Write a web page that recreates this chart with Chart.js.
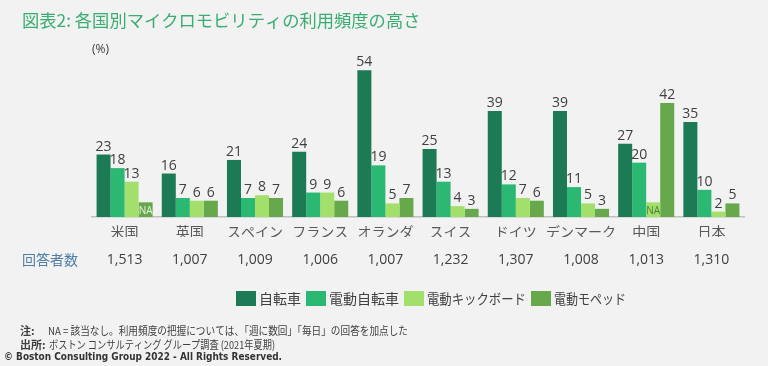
<!DOCTYPE html>
<html lang="ja">
<head>
<meta charset="utf-8">
<script src="https://cdn.jsdelivr.net/npm/chart.js@4.4.1/dist/chart.umd.min.js"></script>
<style>
  html, body { margin: 0; padding: 0; background: #f2f2f2; }
  #wrap { position: relative; width: 768px; height: 366px; }
</style>
</head>
<body>
<div id="wrap"><canvas id="chart" width="768" height="366"></canvas></div>
<script>
const countries = ['米国', '英国', 'スペイン', 'フランス', 'オランダ', 'スイス', 'ドイツ', 'デンマーク', '中国', '日本'];
const respondents = ['1,513', '1,007', '1,009', '1,006', '1,007', '1,232', '1,307', '1,008', '1,013', '1,310'];

// null = NA (該当なし)
const bicycle    = [23, 16, 21, 24, 54, 25, 39, 39, 27, 35];
const eBike      = [18, 7, 7, 9, 19, 13, 12, 11, 20, 10];
const eKickboard = [13, 6, 8, 9, 5, 4, 7, 5, null, 2];
const eMoped     = [null, 6, 7, 6, 7, 3, 6, 3, 42, 5];

const seriesNames = ['自転車', '電動自転車', '電動キックボード', '電動モペッド'];
const seriesColors = ['#1c7a55', '#2bb873', '#a2e06b', '#66a84b'];
const naTextColors = ['#ffffff', '#ffffff', '#4f7d3d', '#e8f3e0'];
const naStub = 5.4; // NA cells are shown as a short stub bar

const yMax = 60;

const jp = '"Noto Sans CJK JP", "Noto Sans", sans-serif';
const num = '"Open Sans", "Noto Sans", sans-serif';

const allSeries = [bicycle, eBike, eKickboard, eMoped];

// labels above bars, NA marks, respondent row, title, legend, notes
const decor = {
    id: 'decor',
    afterDatasetsDraw(chart) {
        const ctx = chart.ctx;
        ctx.save();
        ctx.textAlign = 'center';
        chart.data.datasets.forEach((ds, i) => {
            const meta = chart.getDatasetMeta(i);
            meta.data.forEach((bar, j) => {
                const raw = allSeries[i][j];
                if (raw === null) {
                    ctx.font = '10px ' + num;
                    ctx.fillStyle = naTextColors[i];
                    ctx.textBaseline = 'middle';
                    ctx.fillText('NA', bar.x, (bar.y + bar.base) / 2 + 1);
                } else {
                    ctx.font = '14px ' + num;
                    ctx.fillStyle = '#404040';
                    ctx.textBaseline = 'bottom';
                    ctx.fillText(String(raw), bar.x, bar.y - 1);
                }
            });
        });
        ctx.restore();
    },
    afterDraw(chart) {
        const ctx = chart.ctx;
        const x = chart.scales.x;
        ctx.save();

        // title
        ctx.textAlign = 'left';
        ctx.textBaseline = 'middle';
        ctx.fillStyle = '#3aae72';
        ctx.font = '17.3px ' + jp;
        ctx.fillText('図表2: 各国別マイクロモビリティの利用頻度の高さ', 22, 20);

        // unit
        ctx.fillStyle = '#404040';
        ctx.font = '12px ' + num;
        ctx.fillText('(%)', 92, 50);

        // respondents row
        ctx.fillStyle = '#4f7ea6';
        ctx.font = '14px ' + jp;
        ctx.fillText('回答者数', 22, 260);
        ctx.textAlign = 'center';
        ctx.fillStyle = '#404040';
        ctx.font = '14px ' + num;
        respondents.forEach((r, j) => {
            ctx.fillText(r, x.getPixelForValue(j), 260);
        });

        // legend (text squeezed to the narrow kana widths of the source)
        const legendWidths = [44, 73, 99, 72];
        let lx = 236;
        ctx.textAlign = 'left';
        ctx.font = '14px ' + jp;
        seriesNames.forEach((name, i) => {
            ctx.fillStyle = seriesColors[i];
            ctx.fillRect(lx, 291, 20, 15);
            lx += 23;
            ctx.fillStyle = '#404040';
            const w = Math.min(ctx.measureText(name).width, legendWidths[i]);
            ctx.fillText(name, lx, 299, w);
            lx += w + 5;
        });

        // notes
        ctx.fillStyle = '#404040';
        ctx.font = 'bold 11px ' + jp;
        ctx.fillText('注:', 20, 331);
        ctx.fillText('出所:', 20, 345);
        ctx.font = '11px ' + jp;
        ctx.fillText('NA = 該当なし。利用頻度の把握については、「週に数回」「毎日」の回答を加点した', 48, 331, 360);
        ctx.fillText('ボストン コンサルティング グループ調査 (2021年夏期)', 49, 345, 226);
        ctx.fillStyle = '#333333';
        ctx.font = 'bold 11px "Liberation Sans Narrow", "DejaVu Sans Condensed", sans-serif';
        ctx.fillText('© Boston Consulting Group 2022 - All Rights Reserved.', 4, 357, 278);

        ctx.restore();
    }
};

const datasets = allSeries.map((values, i) => ({
    label: seriesNames[i],
    data: values.map(v => (v === null ? naStub : v)),
    backgroundColor: seriesColors[i],
    borderWidth: 0,
    categoryPercentage: 0.86,
    barPercentage: 1.0
}));

new Chart(document.getElementById('chart').getContext('2d'), {
    type: 'bar',
    data: { labels: countries, datasets },
    options: {
        responsive: false,
        animation: false,
        layout: { padding: { top: 54, left: 92, right: 24, bottom: 129 } },
        plugins: {
            legend: { display: false },
            tooltip: { enabled: false }
        },
        scales: {
            x: {
                grid: { display: false, drawTicks: false },
                border: { display: true, color: '#bfbfbf', width: 1.5 },
                ticks: {
                    autoSkip: false,
                    maxRotation: 0,
                    minRotation: 0,
                    padding: 6,
                    color: '#595959',
                    font: { family: jp, size: 14 }
                },
                afterFit(scale) { scale.height = 20; }
            },
            y: {
                display: false,
                min: 0,
                max: yMax
            }
        }
    },
    plugins: [decor]
});
</script>
</body>
</html>
